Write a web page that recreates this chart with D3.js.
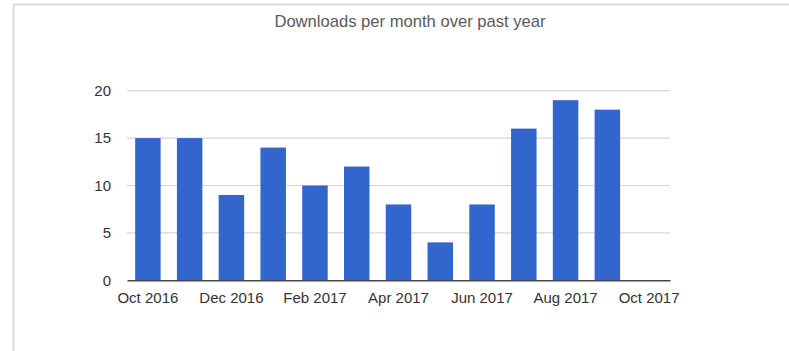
<!DOCTYPE html>
<html>
<head>
<meta charset="utf-8">
<script src="https://cdn.jsdelivr.net/npm/d3@7"></script>
<style>
  body { margin: 0; background: #fff; }
  text { font-family: "Liberation Sans", Arial, sans-serif; }
</style>
</head>
<body>
<div id="chart-area"></div>
<script>
// data
var months = ["Oct 2016", "Nov 2016", "Dec 2016", "Jan 2017", "Feb 2017", "Mar 2017",
              "Apr 2017", "May 2017", "Jun 2017", "Jul 2017", "Aug 2017", "Sep 2017", "Oct 2017"];
var downloads = [15, 15, 9, 14, 10, 12, 8, 4, 8, 16, 19, 18];
var xTickLabels = ["Oct 2016", "Dec 2016", "Feb 2017", "Apr 2017", "Jun 2017", "Aug 2017", "Oct 2017"];
var yTicks = [0, 5, 10, 15, 20];
var title = "Downloads per month over past year";

var W = 789, H = 351;
var margin = { left: 127, right: 119, top: 90.7, bottom: 70.7 };
var width = W - margin.left - margin.right;
var height = H - margin.top - margin.bottom;

var svg = d3.select("#chart-area")
    .append("svg")
    .attr("width", W)
    .attr("height", H);

// frame of the screenshot
svg.append("line")
    .attr("x1", 13.5).attr("x2", 13.5).attr("y1", 4).attr("y2", H)
    .attr("stroke", "#dcdcdc").attr("stroke-width", 2);
svg.append("line")
    .attr("x1", 13).attr("x2", W).attr("y1", 4.5).attr("y2", 4.5)
    .attr("stroke", "#dcdcdc").attr("stroke-width", 2);

svg.append("text")
    .attr("x", 410)
    .attr("y", 27)
    .attr("text-anchor", "middle")
    .attr("font-size", "16.6px")
    .attr("fill", "#5a5a5a")
    .text(title);

var g = svg.append("g")
    .attr("transform", "translate(" + margin.left + ", " + margin.top + ")");

// Scales
var x = d3.scaleBand()
    .domain(months)
    .range([0, width])
    .paddingInner(0.39)
    .paddingOuter(0.195);

var y = d3.scaleLinear()
    .domain([0, 20])
    .range([height, 0]);

// gridlines
g.selectAll(".grid")
    .data(yTicks.filter(function(d) { return d > 0; }))
    .enter().append("line")
    .attr("class", "grid")
    .attr("x1", 0).attr("x2", width)
    .attr("y1", function(d) { return y(d); })
    .attr("y2", function(d) { return y(d); })
    .attr("stroke", "#d6d6d6")
    .attr("stroke-width", 1.2);

// y labels
var yAxisGroup = g.append("g")
    .call(d3.axisLeft(y).tickValues(yTicks).tickSize(0).tickPadding(16));
yAxisGroup.select(".domain").remove();
yAxisGroup.selectAll("text")
    .attr("font-size", "15px")
    .attr("fill", "#333")
    .style("font-family", "'Liberation Sans', Arial, sans-serif");

// bars
g.selectAll(".bar")
    .data(downloads)
    .enter().append("rect")
    .attr("class", "bar")
    .attr("x", function(d, i) { return x(months[i]); })
    .attr("y", function(d) { return y(d); })
    .attr("width", x.bandwidth())
    .attr("height", function(d) { return height - y(d); })
    .attr("fill", "#3366cc");

// x axis
var xAxisGroup = g.append("g")
    .attr("transform", "translate(0, " + height + ")")
    .call(d3.axisBottom(x).tickValues(xTickLabels).tickSize(0).tickSizeOuter(0).tickPadding(12));
xAxisGroup.select(".domain")
    .attr("stroke", "#444")
    .attr("stroke-width", 1.5);
xAxisGroup.selectAll("text")
    .attr("font-size", "15px")
    .attr("fill", "#333")
    .style("font-family", "'Liberation Sans', Arial, sans-serif");
</script>
</body>
</html>
